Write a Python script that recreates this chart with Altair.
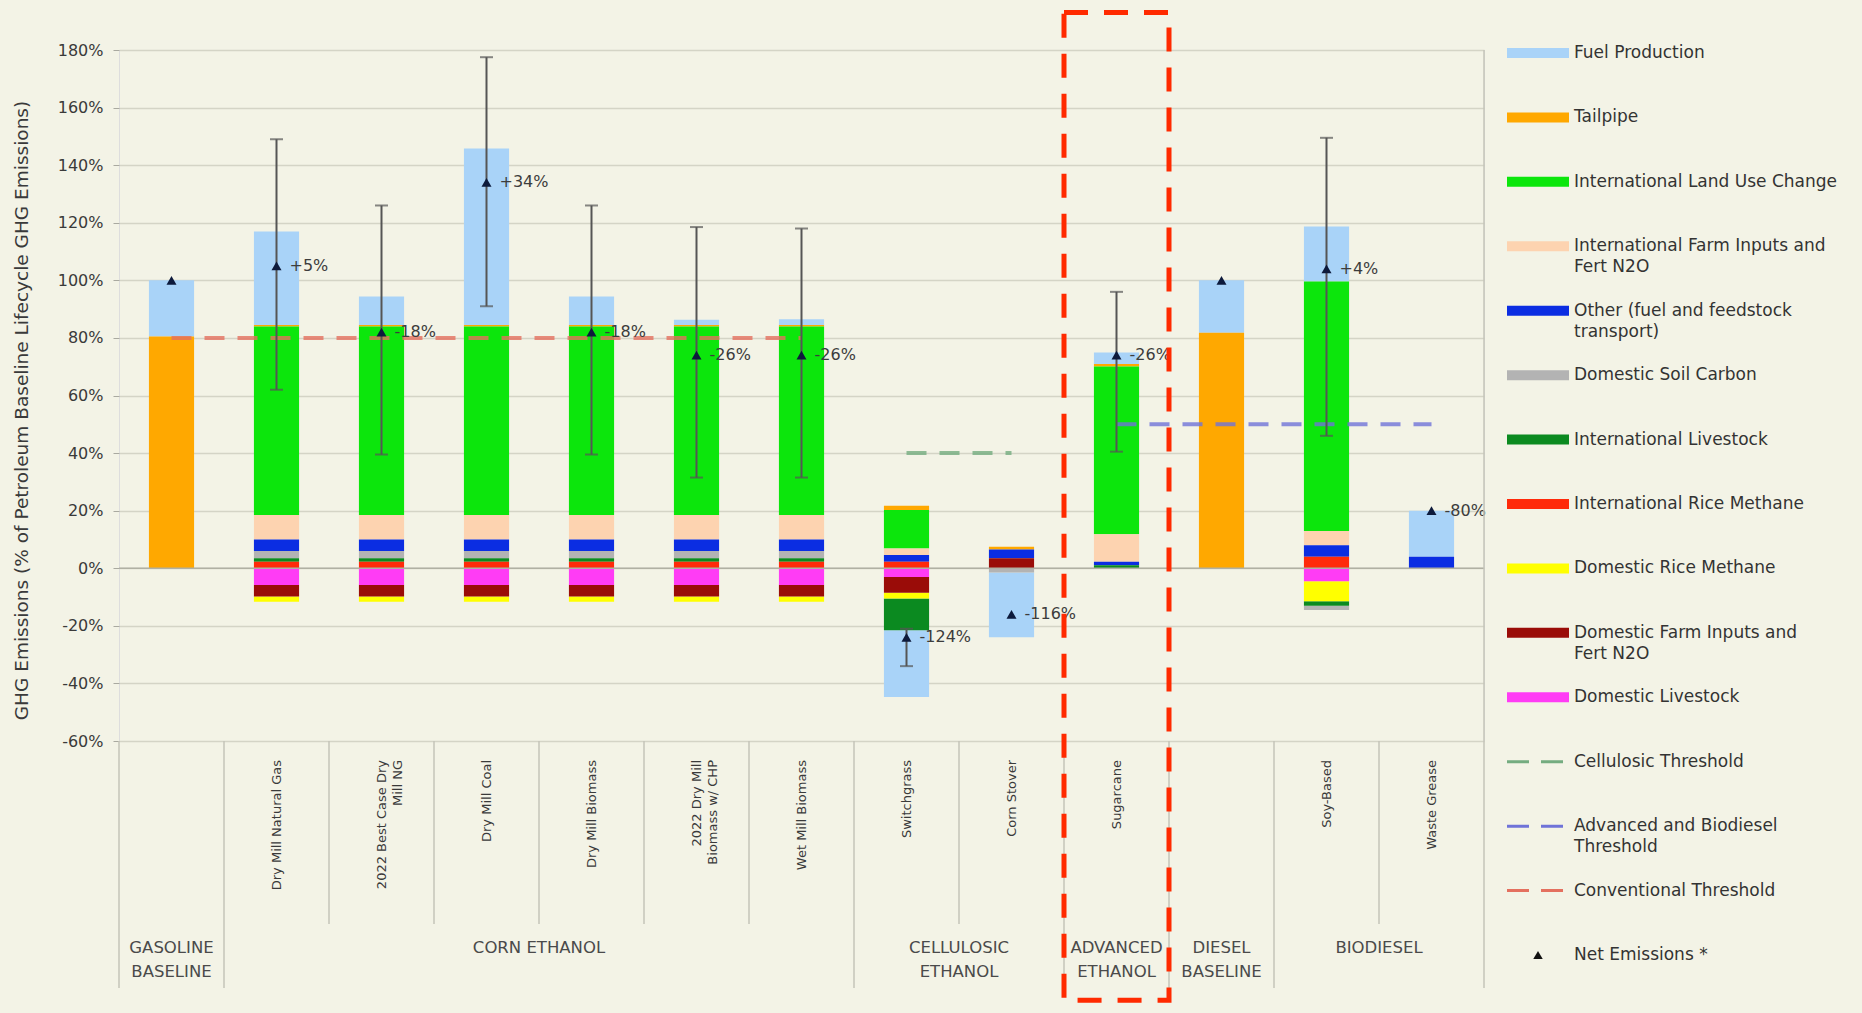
import altair as alt
import pandas as pd

# Pathways on the category axis (left to right)
categories = [
    "Gasoline Baseline", "Dry Mill Natural Gas", "2022 Best Case Dry Mill NG",
    "Dry Mill Coal", "Dry Mill Biomass", "2022 Dry Mill Biomass w/ CHP",
    "Wet Mill Biomass", "Switchgrass", "Corn Stover", "Sugarcane",
    "Diesel Baseline", "Soy-Based", "Waste Grease",
]
tick_text = [
    [""], ["Dry Mill Natural Gas"], ["2022 Best Case Dry", "Mill NG"],
    ["Dry Mill Coal"], ["Dry Mill Biomass"], ["2022 Dry Mill", "Biomass w/ CHP"],
    ["Wet Mill Biomass"], ["Switchgrass"], ["Corn Stover"], ["Sugarcane"],
    [""], ["Soy-Based"], ["Waste Grease"],
]

# Fuel groups under the pathways
group_text = [["GASOLINE", "BASELINE"], ["CORN ETHANOL"], ["CELLULOSIC", "ETHANOL"],
              ["ADVANCED", "ETHANOL"], ["DIESEL", "BASELINE"], ["BIODIESEL"]]
group_anchor = ["Gasoline Baseline", "Dry Mill Coal", "Switchgrass",
                "Sugarcane", "Diesel Baseline", "Soy-Based"]
group_even = [False, True, True, False, False, True]
group_first = ["Gasoline Baseline", "Dry Mill Natural Gas", "Switchgrass",
               "Sugarcane", "Diesel Baseline", "Soy-Based"]

# Emission components, legend order (top of legend = top of stack)
components = [
    "Fuel Production", "Tailpipe", "International Land Use Change",
    "International Farm Inputs and Fert N2O", "Other (fuel and feedstock transport)",
    "Domestic Soil Carbon", "International Livestock", "International Rice Methane",
    "Domestic Rice Methane", "Domestic Farm Inputs and Fert N2O", "Domestic Livestock",
]
component_colors = [
    "#a9d3f8", "#ffa800", "#0ce60c", "#fdd3b0", "#0b2de2", "#b3b3b3",
    "#0b8a20", "#ff2a0a", "#ffff00", "#9a0c08", "#ff3cf5",
]

# Component values, % of petroleum baseline lifecycle GHG emissions
fuel_production = [19.5, 32.5, 9.9, 61.3, 9.9, 1.8, 2.0, -23.2, -22.5, 4.0, 18.2, 19.1, 16.0]
tailpipe = [80.5, 0.5, 0.5, 0.5, 0.5, 0.5, 0.5, 1.5, 1.0, 0.8, 81.8, 0, 0]
intl_land_use = [0, 65.5, 65.5, 65.5, 65.5, 65.5, 65.5, 13.3, 0, 58.3, 0, 86.7, 0]
intl_farm_inputs = [0, 8.5, 8.5, 8.5, 8.5, 8.5, 8.5, 2.3, 0, 9.5, 0, 4.9, 0]
other_transport = [0, 4.0, 4.0, 4.0, 4.0, 4.0, 4.0, 2.3, 3.0, 1.3, 0, 4.0, 4.0]
dom_soil_carbon = [0, 2.5, 2.5, 2.5, 2.5, 2.5, 2.5, 0, -1.5, 0, 0, -1.5, 0]
intl_livestock = [0, 1.2, 1.2, 1.2, 1.2, 1.2, 1.2, -11.0, 0, 1.0, 0, -1.5, 0]
intl_rice = [0, 2.3, 2.3, 2.3, 2.3, 2.3, 2.3, 2.3, 0, 0, 0, 4.0, 0]
dom_rice = [0, -1.8, -1.8, -1.8, -1.8, -1.8, -1.8, -2.0, 0, 0, 0, -7.0, 0]
dom_farm_inputs = [0, -4.0, -4.0, -4.0, -4.0, -4.0, -4.0, -5.5, 3.5, 0, 0, 0, 0]
dom_livestock = [0, -5.8, -5.8, -5.8, -5.8, -5.8, -5.8, -3.0, 0, 0, 0, -4.5, 0]

series = [fuel_production, tailpipe, intl_land_use, intl_farm_inputs, other_transport,
          dom_soil_carbon, intl_livestock, intl_rice, dom_rice, dom_farm_inputs,
          dom_livestock]

# Net emissions change vs. the petroleum baseline (None = baseline itself)
net_change = [None, 5, -18, 34, -18, -26, -26, -124, -116, -26, None, 4, -80]
err_low = [None, 62, 39.5, 91, 39.5, 31.5, 31.5, -34, None, 40.5, None, 46, None]
err_high = [None, 149, 126, 177.5, 126, 118.5, 118, -21, None, 96, None, 149.5, None]

# Reduction thresholds
thresholds = ["Cellulosic Threshold", "Advanced and Biodiesel Threshold", "Conventional Threshold"]
threshold_colors = ["#74ac80", "#6f73d8", "#e4705f"]
threshold_level = [40, 50, 80]
threshold_from = ["Switchgrass", "Sugarcane", "Gasoline Baseline"]
threshold_to = ["Corn Stover", "Waste Grease", "Wet Mill Biomass"]

legend_items = components + thresholds + ["Net Emissions *"]
legend_lines = [
    ["Fuel Production"], ["Tailpipe"], ["International Land Use Change"],
    ["International Farm Inputs and", "Fert N2O"], ["Other (fuel and feedstock", "transport)"],
    ["Domestic Soil Carbon"], ["International Livestock"], ["International Rice Methane"],
    ["Domestic Rice Methane"], ["Domestic Farm Inputs and", "Fert N2O"], ["Domestic Livestock"],
    ["Cellulosic Threshold"], ["Advanced and Biodiesel", "Threshold"],
    ["Conventional Threshold"], ["Net Emissions *"],
]

Y_TITLE = "GHG Emissions (% of Petroleum Baseline Lifecycle GHG Emissions)"
FONT = "DejaVu Sans"
W, H = 1365, 691

# ---- tables -------------------------------------------------------------
n = len(components)
stack_rows = []
for ci, (comp, vals) in enumerate(zip(components, series)):
    for cat, v in zip(categories, vals):
        if v != 0:
            stack_rows.append({"category": cat, "component": comp, "value": v,
                               "stack": n - 1 - ci})
stack_df = pd.DataFrame(stack_rows)

net_df = pd.DataFrame({
    "category": categories,
    "net": [100 + (c or 0) for c in net_change],
    "label": ["" if c is None else f"{c:+d}%" for c in net_change],
})
err_df = pd.DataFrame({"category": categories, "low": err_low, "high": err_high}).dropna()
thr_df = pd.DataFrame({"name": thresholds, "start": threshold_from,
                       "end": threshold_to, "level": threshold_level})
tick_df = pd.DataFrame({"category": categories, "text": tick_text})
group_df = pd.DataFrame({"anchor": group_anchor, "text": group_text, "even": group_even})
edge_df = pd.DataFrame({
    "category": categories,
    "major": [c in group_first for c in categories],
})
box_df = pd.DataFrame({"category": ["Sugarcane"], "top": [193], "bottom": [-150]})
legend_df = pd.DataFrame({
    "item": legend_items,
    "line1": [l[0] for l in legend_lines],
    "line2": [l[1] if len(l) > 1 else "" for l in legend_lines],
    "kind": ["bar"] * len(components) + ["dash"] * len(thresholds) + ["marker"],
})

# ---- scales -------------------------------------------------------------
x_scale = alt.Scale(domain=categories, paddingInner=0, paddingOuter=0)
y_scale = alt.Scale(domain=[-60, 180], nice=False, zero=False)
color_scale = alt.Scale(domain=components + thresholds,
                        range=component_colors + threshold_colors)
leg_scale = alt.Scale(type="point", domain=legend_items, range=[3, 905], padding=0)

y_axis = alt.Axis(
    values=list(range(-60, 181, 20)), labelExpr="datum.value + '%'",
    title=Y_TITLE, titleFont=FONT, titleFontSize=18.5, titleFontWeight="normal",
    titleColor="#3a3a3a", titleX=-98, titleY=360, titleAngle=270,
    titleAlign="center", titleBaseline="middle",
    labelFont=FONT, labelFontSize=16, labelColor="#3a3a3a", labelPadding=10,
    grid=True, gridColor="#d4d4c6", gridWidth=1.5,
    domain=False, ticks=True, tickSize=6, tickColor="#a9a9a0",
)


def X(field, **kw):
    return alt.X(field, scale=x_scale, axis=None, **kw)


def Y(field, **kw):
    return alt.Y(field, scale=y_scale, axis=y_axis, **kw)


# ---- plot layers --------------------------------------------------------
bars = alt.Chart(stack_df).mark_bar(width=alt.RelativeBandSize(0.43)).encode(
    x=X("category:N"),
    y=Y("value:Q", stack="zero"),
    color=alt.Color("component:N", scale=color_scale, legend=None),
    order=alt.Order("stack:Q", sort="ascending"),
)

zero_line = alt.Chart(pd.DataFrame({"y": [0]})).mark_rule(
    color="#b0b0a3", strokeWidth=1.5).encode(y=Y("y:Q"))

thr_lines = alt.Chart(thr_df).mark_rule(
    strokeWidth=4, strokeDash=[20, 13], opacity=0.8).encode(
    x=X("start:N"), x2=alt.X2("end"),
    y=Y("level:Q"),
    color=alt.Color("name:N", scale=color_scale, legend=None),
)

err_rule = alt.Chart(err_df).mark_rule(color="#555555", strokeWidth=2).encode(
    x=X("category:N"), y=Y("low:Q"), y2="high:Q")
err_cap_hi = alt.Chart(err_df).mark_tick(color="#555555", size=13, thickness=2).encode(
    x=X("category:N"), y=Y("high:Q"))
err_cap_lo = alt.Chart(err_df).mark_tick(color="#555555", size=13, thickness=2).encode(
    x=X("category:N"), y=Y("low:Q"))

net_marks = alt.Chart(net_df).mark_point(
    shape="triangle-up", filled=True, size=100, color="#0d1a3c", opacity=1).encode(
    x=X("category:N"), y=Y("net:Q"))
net_text = alt.Chart(net_df).mark_text(
    align="left", baseline="middle", dx=13, font=FONT, fontSize=16, color="#3c3c3c").encode(
    x=X("category:N"), y=Y("net:Q"), text="label:N")

highlight = alt.Chart(box_df).mark_rect(
    fill="#ffffff", fillOpacity=0, stroke="#ff2a00", strokeWidth=5,
    strokeDash=[24, 16]).encode(
    x=X("category:N"), y=Y("top:Q"), y2="bottom:Q")

# category axis drawn by hand: rotated pathway names, group names, separators
ticks = alt.Chart(tick_df).mark_text(
    angle=270, align="right", baseline="middle", font=FONT, fontSize=13,
    lineHeight=16, color="#3a3a3a").encode(
    x=X("category:N"), y=alt.value(H + 19), text="text:N")

groups_single = alt.Chart(group_df).transform_filter("!datum.even").mark_text(
    align="center", baseline="top", font=FONT, fontSize=16.5, lineHeight=24,
    color="#4a4a4a").encode(x=X("anchor:N"), y=alt.value(H + 199), text="text:N")
groups_even = alt.Chart(group_df).transform_filter("datum.even").mark_text(
    align="center", baseline="top", font=FONT, fontSize=16.5, lineHeight=24,
    color="#4a4a4a").encode(x=X("anchor:N", bandPosition=1), y=alt.value(H + 199),
                            text="text:N")

sep_major = alt.Chart(edge_df).transform_filter("datum.major").mark_rule(
    color="#c4c4b8", strokeWidth=1.5).encode(
    x=X("category:N", bandPosition=0), y=alt.value(H), y2=alt.value(H + 247))
sep_minor = alt.Chart(edge_df).transform_filter("!datum.major").mark_rule(
    color="#c4c4b8", strokeWidth=1.5).encode(
    x=X("category:N", bandPosition=0), y=alt.value(H), y2=alt.value(H + 183))
sep_end = alt.Chart(edge_df.tail(1)).mark_rule(
    color="#c4c4b8", strokeWidth=1.5).encode(
    x=X("category:N", bandPosition=1), y=alt.value(0), y2=alt.value(H + 247))

plot = alt.layer(
    bars, zero_line, thr_lines, err_rule, err_cap_hi, err_cap_lo, net_marks, net_text,
    ticks, groups_single, groups_even, sep_major, sep_minor, sep_end, highlight,
)

# ---- legend -------------------------------------------------------------
LY = alt.Y("item:N", scale=leg_scale, axis=None)
leg_bar = alt.Chart(legend_df).transform_filter("datum.kind == 'bar'").mark_rule(
    strokeWidth=10).encode(
    x=alt.value(1388), x2=alt.value(1450), y=LY,
    color=alt.Color("item:N", scale=color_scale, legend=None))
leg_dash = alt.Chart(legend_df).transform_filter("datum.kind == 'dash'").mark_rule(
    strokeWidth=3, strokeDash=[22, 12]).encode(
    x=alt.value(1388), x2=alt.value(1444), y=LY,
    color=alt.Color("item:N", scale=color_scale, legend=None))
leg_marker = alt.Chart(legend_df).transform_filter("datum.kind == 'marker'").mark_point(
    shape="triangle-up", filled=True, size=90, color="#111111", opacity=1).encode(
    x=alt.value(1419), y=LY)
leg_text1 = alt.Chart(legend_df).mark_text(
    align="left", baseline="middle", font=FONT, fontSize=17, color="#333333").encode(
    x=alt.value(1455), y=LY, text="line1:N")
leg_text2 = alt.Chart(legend_df).mark_text(
    align="left", baseline="middle", dy=21, font=FONT, fontSize=17, color="#333333").encode(
    x=alt.value(1455), y=LY, text="line2:N")

legend = alt.layer(leg_bar, leg_dash, leg_marker, leg_text1, leg_text2)

chart = alt.layer(plot, legend).resolve_scale(y="independent").properties(
    width=W, height=H,
    autosize=alt.AutoSizeParams(type="none"),
    padding={"left": 119, "top": 50, "right": 1862 - 119 - W, "bottom": 1013 - 50 - H},
    background="#f3f3e6",
).configure_view(stroke="#b3b3a8", strokeWidth=2.5).configure(font=FONT)

chart.save("out.html", embed_options={"renderer": "svg", "actions": False})
